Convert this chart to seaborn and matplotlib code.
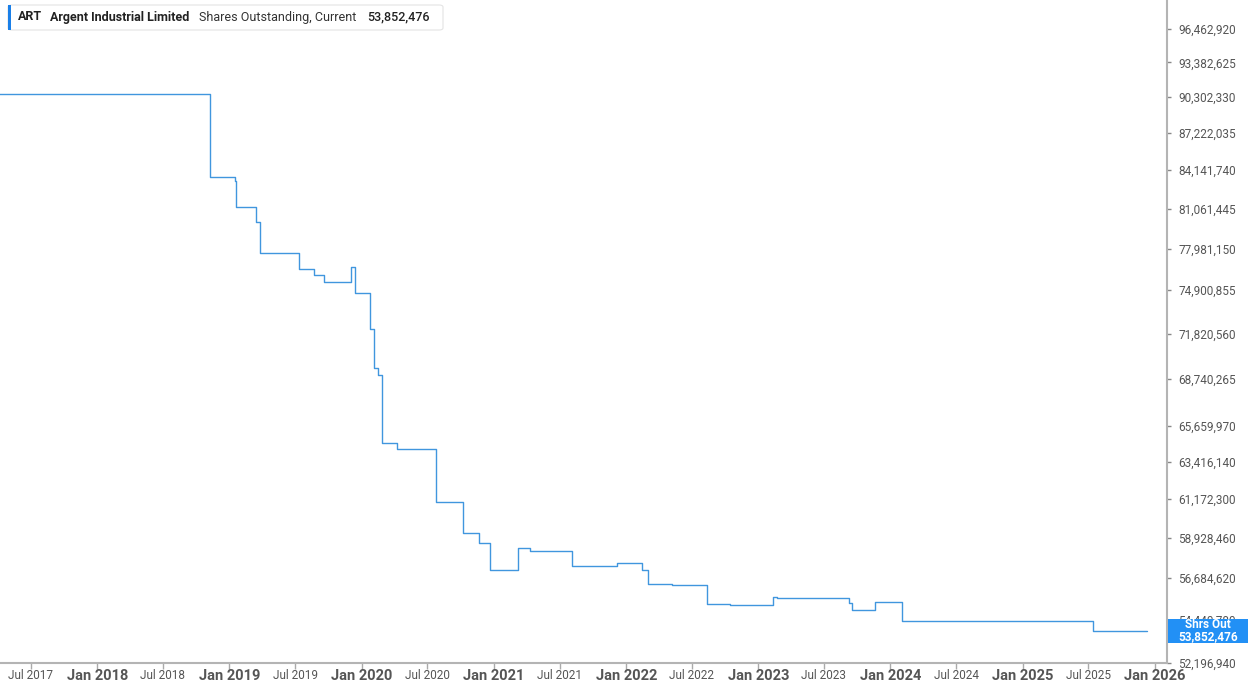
import matplotlib
matplotlib.use("Agg")
import matplotlib.pyplot as plt
import matplotlib.dates as mdates
import matplotlib.ticker as mticker
from matplotlib.patches import FancyBboxPatch, Rectangle
import pandas as pd
import seaborn as sns

dates = ["2017-04-01", "2018-11-07", "2019-01-15", "2019-01-20", "2019-03-14",
         "2019-03-27", "2019-07-12", "2019-08-22", "2019-09-18", "2019-12-02",
         "2019-12-15", "2020-01-24", "2020-02-05", "2020-02-16", "2020-02-26",
         "2020-04-09", "2020-07-24", "2020-10-08", "2020-11-20", "2020-12-22",
         "2021-03-07", "2021-04-10", "2021-08-04", "2021-12-07", "2022-02-14",
         "2022-03-02", "2022-05-08", "2022-08-11", "2022-10-14", "2023-02-11",
         "2023-02-21", "2023-09-08", "2023-09-17", "2023-11-19", "2024-02-03",
         "2025-07-14", "2025-12-10"]
shares = [90580000, 83550000, 83280000, 81160000, 79990000,
          77650000, 76480000, 75990000, 75500000, 76620000,
          74670000, 72140000, 69480000, 69010000, 64570000,
          64240000, 60990000, 59190000, 58630000, 57120000,
          58370000, 58200000, 57360000, 57480000, 57110000,
          56360000, 56320000, 55280000, 55230000, 55640000,
          55590000, 55300000, 54960000, 55390000, 54390000,
          53852476, 53852476]

y_ticks = [52196940, 54440780, 56684620, 58928460, 61172300, 63416140,
           65659970, 68740265, 71820560, 74900855, 77981150, 81061445,
           84141740, 87222035, 90302330, 93382625, 96462920]

ticker_sym = "ART"
company = "Argent Industrial Limited"
metric = "Shares Outstanding, Current"
current = "53,852,476"

df = pd.DataFrame({"date": pd.to_datetime(dates), "shares": shares})

sns.set_style("white")
plt.rcParams["font.family"] = ["Roboto", "DejaVu Sans"]

W, H = 1248, 688
fig = plt.figure(figsize=(W / 100, H / 100), dpi=100)
ax = fig.add_axes([0, 25 / H, 1167 / W, 663 / H])

sns.lineplot(data=df, x="date", y="shares", ax=ax, drawstyle="steps-post",
             color="#4096de", linewidth=1.0, estimator=None)

ax.set_yscale("log")
ax.set_ylim(52196940, 99210000)
ax.set_xlim(pd.Timestamp("2017-04-07"), pd.Timestamp("2026-02-03"))

ax.yaxis.set_major_locator(mticker.FixedLocator(y_ticks))
ax.yaxis.set_minor_locator(mticker.NullLocator())
ax.yaxis.set_major_formatter(mticker.FuncFormatter(lambda v, p: f"{v:,.0f}"))
ax.yaxis.tick_right()
ax.tick_params(axis="y", which="major", length=3, width=1, color="#888888",
               labelsize=8.5, labelcolor="#555555", pad=5, right=True, left=False)

ax.xaxis.set_major_locator(mdates.MonthLocator(bymonth=1))
ax.xaxis.set_minor_locator(mdates.MonthLocator(bymonth=7))
ax.xaxis.set_major_formatter(mdates.DateFormatter("Jan %Y"))
ax.xaxis.set_minor_formatter(mdates.DateFormatter("Jul %Y"))
ax.tick_params(axis="x", which="both", length=4, width=1, color="#aaaaaa",
               labelcolor="#555555", pad=0.5, bottom=True)
for lab in ax.get_xticklabels(which="major"):
    lab.set_fontweight("bold")
    lab.set_fontsize(10.5)
for lab in ax.get_xticklabels(which="minor"):
    lab.set_fontsize(8.5)

ax.set_xlabel("")
ax.set_ylabel("")
for s in ["left", "top"]:
    ax.spines[s].set_visible(False)
for s in ["bottom", "right"]:
    ax.spines[s].set_color("#b4b4b4")
    ax.spines[s].set_linewidth(1.5)


def fx(px):
    return px / W


def fy(py):
    return 1 - py / H


# header box
fig.patches.append(FancyBboxPatch((fx(8), fy(30)), fx(435), 25 / H,
                                  boxstyle="round,pad=0,rounding_size=0.003",
                                  transform=fig.transFigure, facecolor="white",
                                  edgecolor="#e4e4e4", linewidth=0.8, zorder=10))
fig.patches.append(Rectangle((fx(8), fy(30)), fx(3), 25 / H,
                             transform=fig.transFigure, facecolor="#1a7fe8",
                             edgecolor="none", zorder=11))
fig.text(fx(18), fy(17), ticker_sym, fontsize=9, fontweight="bold",
         color="#222222", va="center", zorder=12)
fig.text(fx(50), fy(17), company, fontsize=9, fontweight="bold",
         color="#222222", va="center", zorder=12)
fig.text(fx(199), fy(17), metric, fontsize=9, color="#333333",
         va="center", zorder=12)
fig.text(fx(367), fy(17), current, fontsize=9, fontweight="medium",
         color="#222222", va="center", zorder=12)

# current value tag
fig.patches.append(Rectangle((fx(1168), fy(643)), fx(80), 24 / H,
                             transform=fig.transFigure, facecolor="#2290f5",
                             edgecolor="none", zorder=10))
fig.text(fx(1208), fy(631), "Shrs Out\n" + current, fontsize=8.5,
         fontweight="bold", color="white", ha="center", va="center",
         linespacing=0.9, zorder=12)

fig.savefig("out.png", dpi=100)
